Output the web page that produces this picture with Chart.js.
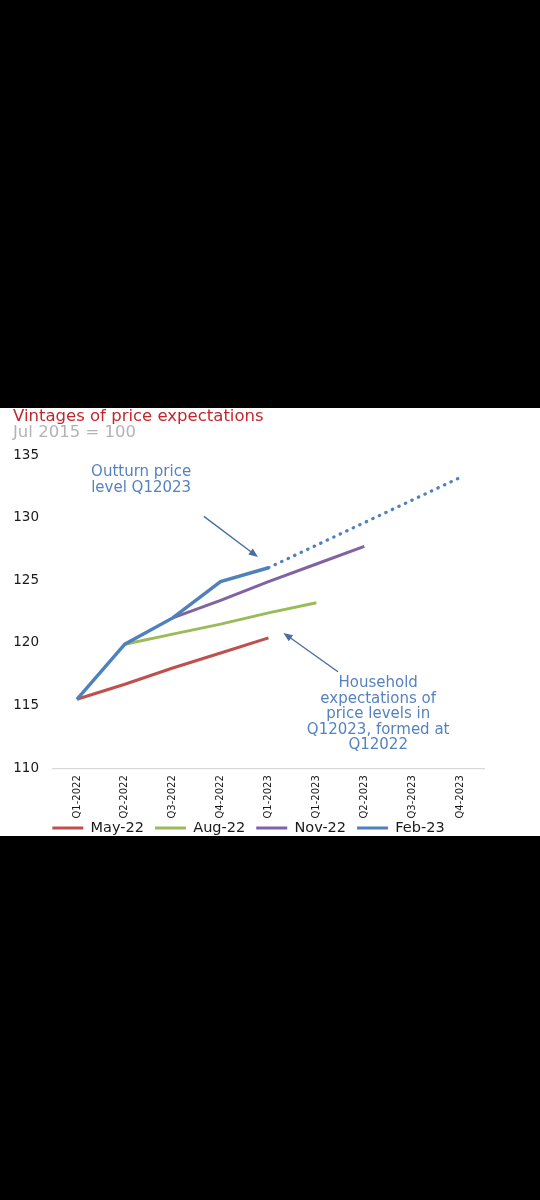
<!DOCTYPE html>
<html>
<head>
<meta charset="utf-8">
<title>Vintages of price expectations</title>
<script src="https://cdn.jsdelivr.net/npm/chart.js@4.4.1/dist/chart.umd.min.js"></script>
<style>
  html, body { margin: 0; padding: 0; background: #000; }
  body { width: 540px; height: 1200px; position: relative; overflow: hidden; }
  #sheet { position: absolute; left: 0; top: 408px; width: 540px; height: 428px; background: #fff; }
  #graph { position: absolute; left: 0; top: 408px; }
</style>
</head>
<body>
<div id="sheet"></div>
<canvas id="graph" width="540" height="453"></canvas>
<script>
// x categories as printed on the chart (Q1-2023 really appears twice)
const quarters = ['Q1-2022', 'Q2-2022', 'Q3-2022', 'Q4-2022', 'Q1-2023', 'Q1-2023', 'Q2-2023', 'Q3-2023', 'Q4-2023'];

const may22 = [115.5, 116.7, 118.0, 119.2, 120.4, null, null, null, null];
const aug22 = [null, 119.9, 120.7, 121.5, 122.4, 123.2, null, null, null];
const nov22 = [null, null, 122.0, 123.4, 124.9, 126.3, 127.7, null, null];
const feb23 = [115.5, 119.9, 122.0, 124.9, 126.0, null, null, null, null];
const feb23Ahead = [null, null, null, null, 126.0, 127.8, 129.6, 131.4, 133.2];

const yTicks = [110, 115, 120, 125, 130, 135];

const fontName = '"DejaVu Sans", "Liberation Sans", sans-serif';
const noteColor = '#5682c0';
const arrowColor = '#4a6e9f';

// annotations, anchored in data space: [category index, value]
const noteTexts = [
  { lines: ['Outturn price', 'level Q12023'], at: [1.34, 133.6] },
  { lines: ['Household', 'expectations of', 'price levels in', 'Q12023, formed at', 'Q12022'], at: [6.29, 116.8] },
];
const noteArrows = [
  { from: [2.65, 130.1], to: [3.78, 126.85] },
  { from: [5.45, 117.7], to: [4.31, 120.8] },
];

const notesPlugin = {
  id: 'notes',
  afterLayout(chart) {
    // pull the legend up into the spare room under the rotated labels
    const lg = chart.legend;
    lg.top -= 15.75;
    lg.bottom -= 15.75;
  },
  afterDatasetsDraw(chart) {
    const { ctx, scales: { x, y } } = chart;
    ctx.save();
    ctx.font = '15px ' + fontName;
    ctx.fillStyle = noteColor;
    ctx.textAlign = 'center';
    ctx.textBaseline = 'middle';
    noteTexts.forEach(note => {
      const px = x.getPixelForValue(note.at[0]);
      const py = y.getPixelForValue(note.at[1]);
      note.lines.forEach((line, i) => ctx.fillText(line, px, py + i * 15.6));
    });

    ctx.strokeStyle = arrowColor;
    ctx.fillStyle = arrowColor;
    ctx.lineWidth = 1.4;
    noteArrows.forEach(a => {
      const x1 = x.getPixelForValue(a.from[0]);
      const y1 = y.getPixelForValue(a.from[1]);
      const x2 = x.getPixelForValue(a.to[0]);
      const y2 = y.getPixelForValue(a.to[1]);
      const ang = Math.atan2(y2 - y1, x2 - x1);
      const head = 10;
      ctx.beginPath();
      ctx.moveTo(x1, y1);
      ctx.lineTo(x2 - Math.cos(ang) * head * 0.8, y2 - Math.sin(ang) * head * 0.8);
      ctx.stroke();
      ctx.beginPath();
      ctx.moveTo(x2, y2);
      ctx.lineTo(x2 - head * Math.cos(ang - 0.38), y2 - head * Math.sin(ang - 0.38));
      ctx.lineTo(x2 - head * Math.cos(ang + 0.38), y2 - head * Math.sin(ang + 0.38));
      ctx.closePath();
      ctx.fill();
    });
    ctx.restore();
  }
};

function line(label, data, color, order, extra) {
  return Object.assign({
    label: label,
    data: data,
    borderColor: color,
    backgroundColor: color,
    borderWidth: 3,
    pointRadius: 0,
    pointHoverRadius: 0,
    tension: 0,
    fill: false,
    spanGaps: false,
    order: order,
  }, extra || {});
}

const chartOptions = {
  type: 'line',
  data: {
    labels: quarters,
    datasets: [
      line('May-22', may22, '#c0504d', 3),
      line('Aug-22', aug22, '#9bbb59', 2),
      line('Nov-22', nov22, '#8064a2', 1),
      line('Feb-23', feb23, '#4f81bd', 0, { borderWidth: 3.4 }),
      line('Feb-23', feb23Ahead, '#4f81bd', 0, {
        projection: true,
        borderWidth: 3.2,
        borderDash: [0.5, 6.7],
        borderCapStyle: 'round',
      }),
    ]
  },
  options: {
    responsive: false,
    animation: false,
    events: [],
    layout: {
      padding: { left: 13, right: 56, top: 0, bottom: 0 }
    },
    scales: {
      x: {
        offset: true,
        grid: { display: false, drawTicks: false },
        border: { display: true, color: '#d9d9d9', width: 1.3 },
        ticks: {
          autoSkip: false,
          minRotation: 90,
          maxRotation: 90,
          padding: 7,
          color: '#1a1a1a',
          font: { family: fontName, size: 10 },
        },
      },
      y: {
        min: 110,
        max: 135,
        grid: { display: false, drawTicks: false },
        border: { display: false },
        afterBuildTicks: (axis) => { axis.ticks = yTicks.map(v => ({ value: v })); },
        afterFit: (axis) => { axis.width = 40; },
        ticks: {
          padding: 14,
          color: '#1a1a1a',
          font: { family: fontName, size: 13.5 },
        },
      },
    },
    plugins: {
      title: {
        display: true,
        text: 'Vintages of price expectations',
        align: 'start',
        color: '#c1272d',
        font: { family: fontName, size: 16.5, weight: 'normal', lineHeight: 1 },
        padding: { top: 0, bottom: 0 },
      },
      subtitle: {
        display: true,
        text: 'Jul 2015 = 100',
        align: 'start',
        color: '#b3b3b3',
        font: { family: fontName, size: 16.5, weight: 'normal', lineHeight: 1 },
        padding: { top: 0, bottom: 14 },
      },
      legend: {
        position: 'bottom',
        labels: {
          boxWidth: 31,
          boxHeight: 3,
          padding: 11,
          color: '#1a1a1a',
          font: { family: fontName, size: 14.5 },
          generateLabels: (chart) => chart.data.datasets
            .map((ds, i) => ({
              text: ds.label,
              fillStyle: ds.borderColor,
              strokeStyle: ds.borderColor,
              lineWidth: 0,
              fontColor: '#1a1a1a',
              hidden: false,
              datasetIndex: i,
              projection: ds.projection,
            }))
            .filter(item => !item.projection),
        }
      },
      tooltip: { enabled: false },
    },
  },
  plugins: [notesPlugin],
};

const ctx = document.getElementById('graph').getContext('2d');
const lineChart = new Chart(ctx, chartOptions);
</script>
</body>
</html>
